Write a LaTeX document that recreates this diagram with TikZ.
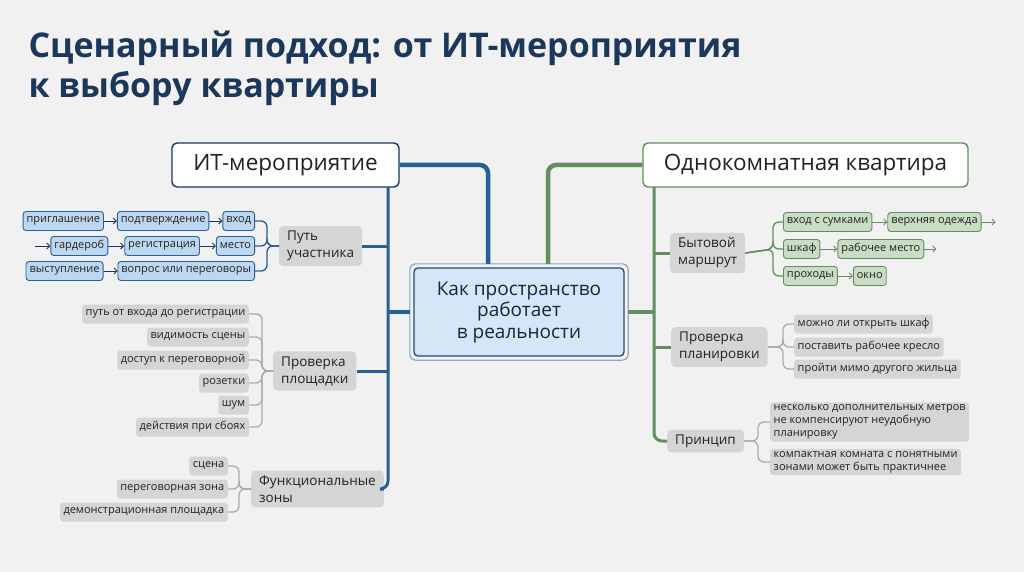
\documentclass[tikz,border=0pt]{standalone}
\usepackage{fontspec}
\setmainfont{Open Sans}
\usetikzlibrary{positioning,arrows.meta}
\definecolor{bgc}{RGB}{240,241,240}
\definecolor{navy}{RGB}{28,55,92}
\definecolor{itblue}{RGB}{40,94,154}
\definecolor{lightblue}{RGB}{214,230,246}
\definecolor{leafblue}{RGB}{190,215,241}
\definecolor{aptgreen}{RGB}{100,142,96}
\definecolor{leafgreen}{RGB}{201,221,196}
\definecolor{nodegray}{RGB}{213,213,213}
\definecolor{linegray}{RGB}{172,172,172}
\definecolor{txt}{RGB}{34,34,34}
\tikzset{
  hdr/.style={draw, line width=1.4pt, rounded corners=5pt, fill=white, minimum height=44pt,
    text=txt, font=\fontsize{22.5}{26}\selectfont},
  branch/.style={fill=nodegray, rounded corners=4pt, align=left, inner xsep=8pt, inner ysep=5pt,
    text=txt, font=\fontsize{13.5}{17}\selectfont},
  leaf/.style={fill=nodegray, rounded corners=3pt, align=left, inner xsep=3.5pt, inner ysep=2.5pt,
    minimum height=19pt, text=txt, font=\fontsize{11}{12.8}\selectfont},
  leafb/.style={leaf, fill=leafblue, draw=itblue, line width=0.9pt},
  leafg/.style={leaf, fill=leafgreen, draw=aptgreen, line width=0.9pt},
  gline/.style={linegray, line width=1.3pt, rounded corners=6pt},
  bthin/.style={gline, itblue},
  gthin/.style={gline, aptgreen},
  bline/.style={itblue, line width=3pt, rounded corners=8pt},
  grline/.style={aptgreen, line width=3pt, rounded corners=8pt},
  nxt/.style={-{Straight Barb[length=3pt,width=6pt]}, line width=0.9pt}
}
\begin{document}
\begin{tikzpicture}[x=1pt,y=-1pt]
\fill[bgc] (0,0) rectangle (1024,572);
\useasboundingbox (0,0) rectangle (1024,572);

% title
\node[anchor=west, align=left, text=navy, font=\fontsize{34}{40}\selectfont\bfseries] (title) at (25,68)
  {Сценарный подход: от ИТ-мероприятия\\к выбору квартиры};

% main nodes
\node[hdr, draw=navy, minimum width=227pt] (it) at (285.5,165) {ИТ-мероприятие};
\node[hdr, draw=aptgreen, minimum width=325pt] (od) at (805.5,165) {Однокомнатная квартира};
\node[fill=lightblue, draw=itblue!80!black, line width=1.3pt, rounded corners=4pt,
  minimum width=210pt, minimum height=88pt, align=center, text=navy!70!black,
  font=\fontsize{19}{21.5}\selectfont] (ctr) at (519,312) {Как пространство\\работает\\в реальности};
\draw[itblue!55, line width=1.2pt, rounded corners=6pt]
  ([shift={(-3.5,-3.5)}]ctr.north west) rectangle ([shift={(3.5,3.5)}]ctr.south east);

% left branch: path
\node[branch, anchor=west] (path) at (279,246) {Путь\\участника};
\node[leafb, anchor=east] (entr) at (255,221) {вход};
\node[leafb, left=13pt of entr] (conf) {подтверждение};
\node[leafb, left=13pt of conf] (inv) {приглашение};
\node[leafb, anchor=east] (seat) at (255,246) {место};
\node[leafb, left=16pt of seat] (reg) {регистрация};
\node[leafb, left=16pt of reg] (ward) {гардероб};
\coordinate[left=15pt of ward] (w0);
\node[leafb, anchor=east] (qa) at (255,271) {вопрос или переговоры};
\node[leafb, left=14pt of qa] (talk) {выступление};
\draw[nxt, navy] (inv) -- (conf);
\draw[nxt, navy] (conf) -- (entr);
\draw[nxt, navy] (w0) -- (ward);
\draw[nxt, navy] (ward) -- (reg);
\draw[nxt, navy] (reg) -- (seat);
\draw[nxt, navy] (talk) -- (qa);
\coordinate (pj) at (267,246);
\foreach \n in {entr,seat,qa}
  \draw[bthin] (\n.east) -| (pj) -- (path.west);

% left branch: venue check
\node[branch, anchor=west] (chk) at (273,371) {Проверка\\площадки};
\node[leaf, anchor=east] (v1) at (249,314) {путь от входа до регистрации};
\node[leaf, anchor=east] (v2) at (249,337) {видимость сцены};
\node[leaf, anchor=east] (v3) at (249,360) {доступ к переговорной};
\node[leaf, anchor=east] (v4) at (249,383) {розетки};
\node[leaf, anchor=east] (v5) at (249,405) {шум};
\node[leaf, anchor=east] (v6) at (249,427) {действия при сбоях};
\coordinate (cj) at (262,371);
\foreach \n in {v1,v2,v3,v4,v5,v6}
  \draw[gline] (\n.east) -| (cj) -- (chk.west);

% left branch: zones
\node[branch, anchor=west] (zones) at (251,489) {Функциональные\\зоны};
\node[leaf, anchor=east] (z1) at (228,466) {сцена};
\node[leaf, anchor=east] (z2) at (228,489) {переговорная зона};
\node[leaf, anchor=east] (z3) at (228,512) {демонстрационная площадка};
\coordinate (zj) at (239,489);
\foreach \n in {z1,z2,z3}
  \draw[gline] (\n.east) -| (zj) -- (zones.west);

% left spine
\coordinate (ltop) at (388,187);
\draw[bline] (ltop) |- (zones.east);
\draw[bline] (path.east) -- (path.east -| ltop);
\draw[bline] (chk.east) -- (chk.east -| ltop);
\draw[bline, line width=4pt] (ctr.west -| ltop) -- ([xshift=-3.5pt]ctr.west);
\draw[bline, line width=4.5pt] (it.east) -| ([xshift=-31pt,yshift=3.5pt]ctr.north);

% right branch: daily route
\node[branch, anchor=west] (route) at (670,253) {Бытовой\\маршрут};
\node[leafg, anchor=west] (bags) at (783,222) {вход с сумками};
\node[leafg, right=15pt of bags] (coat) {верхняя одежда};
\coordinate[right=14pt of coat] (c1);
\node[leafg, anchor=west] (wardr) at (783,249) {шкаф};
\node[leafg, right=17pt of wardr] (desk) {рабочее место};
\coordinate[right=12pt of desk] (c2);
\node[leafg, anchor=west] (aisle) at (783,276) {проходы};
\node[leafg, right=15pt of aisle] (win) {окно};
\draw[nxt, aptgreen] (bags) -- (coat);
\draw[nxt, aptgreen] (coat) -- (c1);
\draw[nxt, aptgreen] (wardr) -- (desk);
\draw[nxt, aptgreen] (desk) -- (c2);
\draw[nxt, aptgreen] (aisle) -- (win);
\coordinate (rj) at (773,249);
\foreach \n in {bags,wardr,aisle}
  \draw[gthin] (route.east) -- (rj) |- (\n.west);

% right branch: layout check
\node[branch, anchor=west] (plan) at (671,347) {Проверка\\планировки};
\node[leaf, anchor=west] (q1) at (794,324) {можно ли открыть шкаф};
\node[leaf, anchor=west] (q2) at (794,347) {поставить рабочее кресло};
\node[leaf, anchor=west] (q3) at (794,369) {пройти мимо другого жильца};
\coordinate (qj) at (783,347);
\foreach \n in {q1,q2,q3}
  \draw[gline] (plan.east) -- (qj) |- (\n.west);

% right branch: principle
\node[branch, anchor=west] (rule) at (667,441) {Принцип};
\node[leaf, anchor=west] (p1) at (770,422) {несколько дополнительных метров\\не компенсируют неудобную\\планировку};
\node[leaf, anchor=west] (p2) at (770,462) {компактная комната с понятными\\зонами может быть практичнее};
\coordinate (rlj) at (758,441);
\foreach \n in {p1,p2}
  \draw[gline] (rule.east) -- (rlj) |- (\n.west);

% right spine
\coordinate (rtop) at (654,187);
\draw[grline] (rtop) |- (rule.west);
\draw[grline] (route.west) -- (route.west -| rtop);
\draw[grline] (plan.west) -- (plan.west -| rtop);
\draw[grline, line width=4pt] ([xshift=3.5pt]ctr.east) -- (ctr.east -| rtop);
\draw[grline, line width=4.5pt] (od.west) -| ([xshift=29pt,yshift=3.5pt]ctr.north);
\end{tikzpicture}
\end{document}
